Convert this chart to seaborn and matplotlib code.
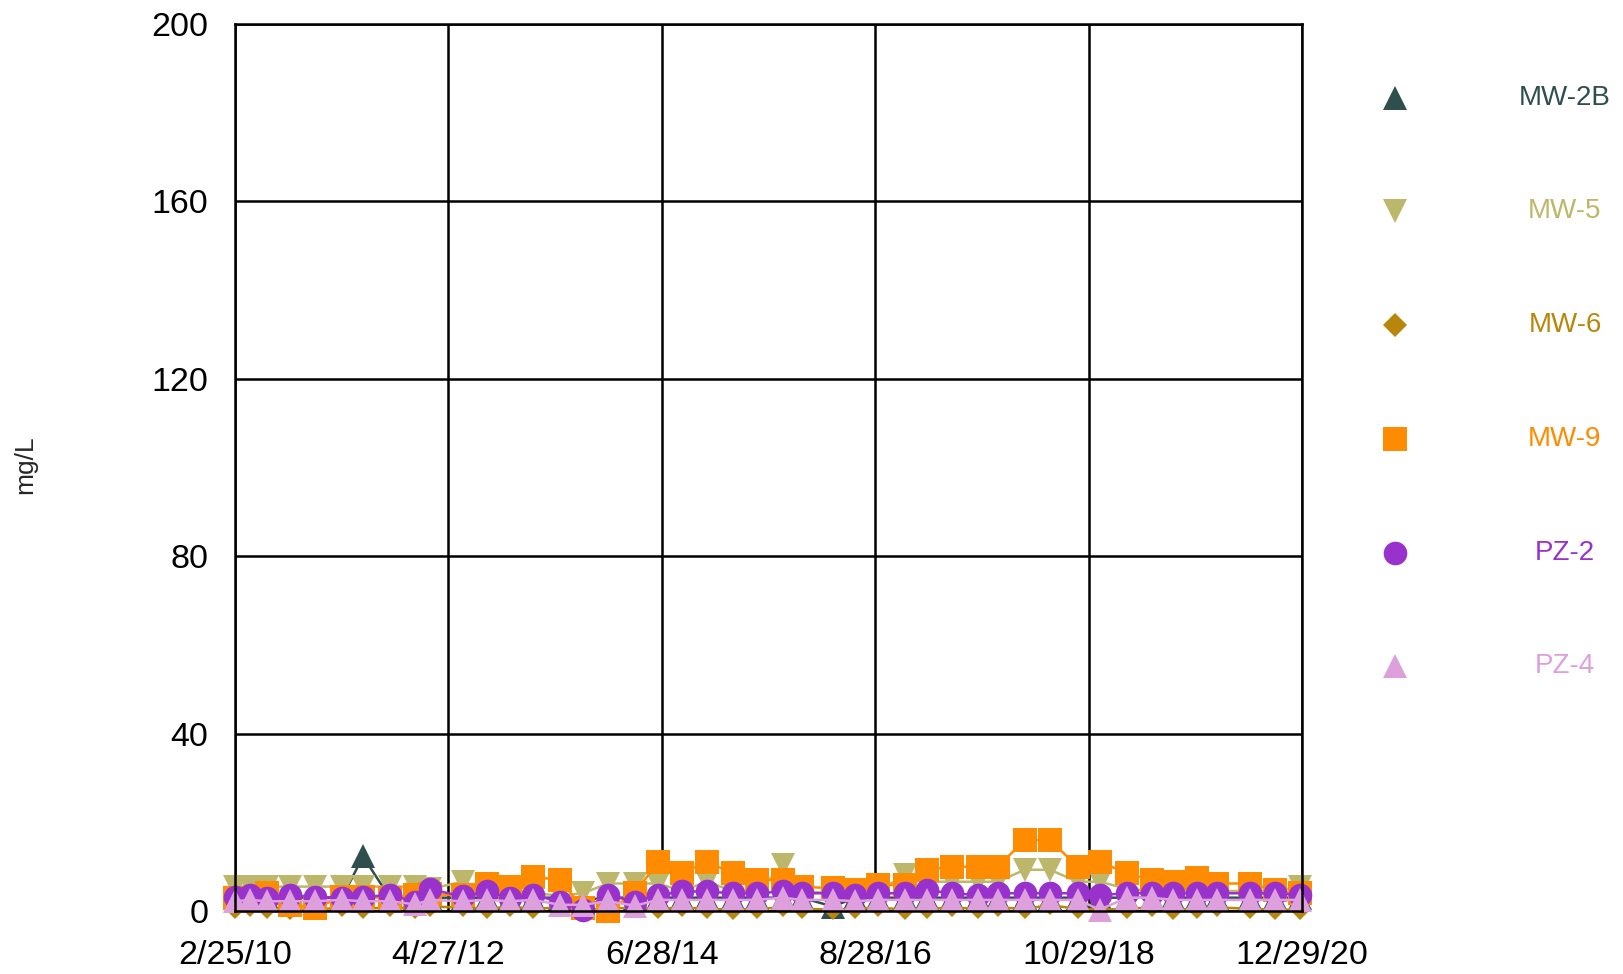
import pandas as pd
import matplotlib.pyplot as plt
import seaborn as sns

sns.set_style("white")
plt.rcParams['font.family'] = ['Liberation Sans', 'DejaVu Sans']

# sampling dates (roughly quarterly)
dates = pd.to_datetime([
    "2010-02-25", "2010-04-22", "2010-06-24", "2010-09-17", "2010-12-19",
    "2011-03-29", "2011-06-15", "2011-09-23", "2011-12-25", "2012-02-19",
    "2012-06-20", "2012-09-17", "2012-12-11", "2013-03-07", "2013-06-15",
    "2013-09-08", "2013-12-10", "2014-03-20", "2014-06-14", "2014-09-11",
    "2014-12-12", "2015-03-19", "2015-06-16", "2015-09-20", "2015-11-30",
    "2016-03-24", "2016-06-14", "2016-09-07", "2016-12-16", "2017-03-08",
    "2017-06-09", "2017-09-13", "2017-11-26", "2018-03-06", "2018-06-07",
    "2018-09-19", "2018-12-10", "2019-03-20", "2019-06-21", "2019-09-06",
    "2019-12-05", "2020-02-17", "2020-06-18", "2020-09-19", "2020-12-21",
])

mw2b = [3.0, 3.0, 3.0, 3.0, 3.0, 3.0, 12.3, 3.0, 3.0, 3.0,
        3.0, 3.0, 3.0, 3.0, 3.0, 2.5, 3.0, 3.0, 3.0, 3.0,
        3.0, 3.0, 3.0, 3.0, 3.0, 1.0, 3.0, 3.0, 3.0, 3.0,
        3.0, 3.0, 3.0, 3.0, 3.0, 3.0, 3.0, 3.0, 3.0, 3.0,
        3.0, 3.0, 3.0, 3.0, 3.0]
mw5 = [5.5, 5.5, 5.5, 5.5, 5.5, 5.5, 5.5, 5.5, 5.5, 5.0,
       6.6, 4.5, 5.0, 4.0, 3.5, 4.0, 6.2, 6.2, 6.2, 4.5,
       6.6, 4.5, 4.0, 10.4, 4.5, 4.0, 4.0, 4.5, 8.1, 6.6,
       6.6, 6.6, 6.6, 9.3, 9.3, 6.6, 6.6, 5.0, 4.5, 4.5,
       4.5, 4.5, 4.5, 4.5, 5.5]
mw6 = [0.5, 0.8, 0.5, 0.3, 0.3, 0.8, 0.5, 0.8, 0.5, 1.0,
       0.8, 0.5, 1.0, 0.5, 0.8, 0.3, 0.5, 0.8, 0.5, 0.8,
       0.5, 0.3, 0.5, 0.8, 0.5, 0.3, 0.5, 0.8, 0.3, 0.5,
       0.8, 0.5, 0.8, 0.5, 1.3, 0.5, 0.3, 0.5, 0.8, 0.3,
       0.5, 0.8, 0.5, 0.3, 0.3]
mw9 = [3.0, 3.0, 4.1, 1.4, 0.7, 3.1, 3.2, 2.9, 3.6, 3.8,
       3.5, 6.2, 5.5, 7.7, 7.0, 0.7, 0.0, 4.0, 11.1, 8.5,
       11.1, 8.5, 7.0, 7.0, 5.5, 5.1, 4.7, 5.9, 5.9, 9.3,
       10.0, 10.0, 10.0, 16.0, 16.0, 10.0, 11.1, 8.5, 7.0, 6.6,
       7.4, 6.2, 6.2, 4.7, 4.0]
pz2 = [3.2, 3.6, 3.0, 3.6, 3.2, 3.0, 3.2, 3.6, 2.1, 4.9,
       3.3, 4.4, 2.9, 3.6, 2.1, 0.2, 3.6, 2.1, 3.6, 4.4,
       4.4, 4.0, 4.0, 4.4, 4.0, 4.0, 3.6, 4.0, 4.0, 4.7,
       4.0, 3.6, 4.0, 4.0, 4.0, 4.0, 3.6, 4.0, 4.0, 4.0,
       4.0, 4.0, 4.0, 4.0, 3.6]
pz4 = [2.2, 2.5, 2.2, 2.2, 2.2, 2.5, 2.2, 2.2, 1.5, 2.5,
       2.2, 2.5, 2.2, 2.5, 1.4, 1.4, 2.2, 1.2, 2.5, 2.5,
       2.5, 2.5, 2.5, 3.0, 2.5, 2.5, 2.2, 2.5, 2.5, 2.5,
       2.5, 2.5, 2.5, 2.5, 2.5, 2.5, 0.3, 3.0, 3.0, 2.5,
       2.5, 2.5, 2.5, 2.5, 2.5]

series = ["MW-2B", "MW-5", "MW-6", "MW-9", "PZ-2", "PZ-4"]
values = [mw2b, mw5, mw6, mw9, pz2, pz4]
colors = ["#2F4F4F", "#BDB76B", "#B8860B", "#FF8C00", "#9932CC", "#DDA0DD"]
markers = ["^", "v", "D", "s", "o", "^"]
msizes = [17, 17, 10, 17, 17, 17]

tick_dates = pd.to_datetime(["2010-02-25", "2012-04-27", "2014-06-28",
                             "2016-08-28", "2018-10-29", "2020-12-29"])
tick_labels = ["2/25/10", "4/27/12", "6/28/14", "8/28/16", "10/29/18", "12/29/20"]

fig = plt.figure(figsize=(16.23, 9.74), dpi=100)
ax = fig.add_axes([235 / 1623, 63 / 974, 1067 / 1623, 887 / 974])

for name, vals, c, m, ms in zip(series, values, colors, markers, msizes):
    df = pd.DataFrame({"date": dates, "val": vals})
    sns.lineplot(data=df, x="date", y="val", ax=ax, color=c, marker=m,
                 markersize=ms, markeredgewidth=0, linewidth=1.8,
                 estimator=None, clip_on=False)

ax.set_xlim(tick_dates[0], tick_dates[-1])
ax.set_ylim(0, 200)
ax.set_yticks([0, 40, 80, 120, 160, 200])
ax.set_xticks(tick_dates)
ax.set_xticklabels(tick_labels)
ax.set_xlabel("")
ax.set_ylabel("")
ax.grid(True, color="black", linewidth=1.8)
ax.set_axisbelow(True)
for s in ax.spines.values():
    s.set_color("black")
    s.set_linewidth(1.8)
ax.tick_params(axis="both", direction="out", length=7, width=1.8,
               color="black", labelsize=24.5, labelcolor="black")
ax.tick_params(axis="y", pad=12)
ax.tick_params(axis="x", pad=14)

fig.text(25 / 1623, 1 - 465 / 974, "mg/L", rotation=90, fontsize=19,
         ha="center", va="center")

# legend drawn by hand: marker left, coloured label centred on the right
leg_y = [98, 211, 325, 439, 553, 666]
for name, c, m, yy in zip(series, colors, markers, leg_y):
    yf = 1 - yy / 974
    fig.lines.append(plt.Line2D([1395 / 1623], [yf], transform=fig.transFigure,
                                marker=m, markersize=17 if m != "D" else 12,
                                color=c, markeredgewidth=0, linestyle="none"))
    fig.text(1565 / 1623, yf, name, color=c, fontsize=20, ha="center", va="center")

plt.savefig("out.png", dpi=100)
